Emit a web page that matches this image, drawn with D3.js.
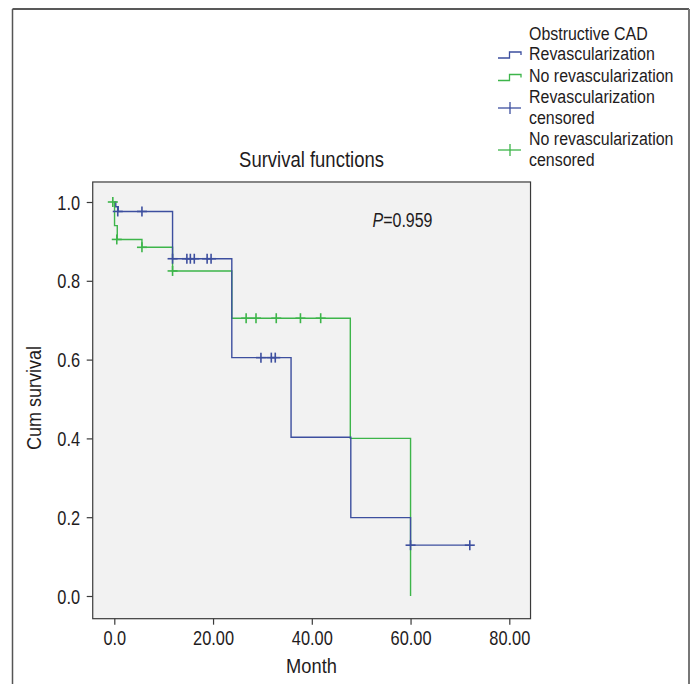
<!DOCTYPE html>
<html lang="en">
<head>
<meta charset="UTF-8">
<title>Survival functions</title>
<style>
  body { margin: 0; background: #fff; }
  svg { display: block; }
  text { font-family: "Liberation Sans", Arial, sans-serif; fill: #1f1c1d; }
</style>
</head>
<body>
<div id="chart"></div>
<script src="https://d3js.org/d3.v7.min.js"></script>
<script>
// Revascularization group: step points (month, cumulative survival)
const revascTime = [0, 0.3, 0.8, 11.8, 23.8, 35.8, 47.9, 60, 72];
const revascSurv = [1.0, 0.988, 0.976, 0.856, 0.605, 0.403, 0.199, 0.129, 0.129];
const revascCensTime = [0.7, 5.6, 11.8, 14.7, 15.4, 16.2, 18.8, 19.6, 29.7, 31.8, 32.6, 60, 72];
const revascCensSurv = [0.976, 0.976, 0.856, 0.856, 0.856, 0.856, 0.856, 0.856, 0.605, 0.605, 0.605, 0.129, 0.129];

// No revascularization group
const noRevascTime = [0, 0.05, 0.6, 5.6, 11.8, 23.8, 47.8, 60];
const noRevascSurv = [1.0, 0.94, 0.905, 0.885, 0.825, 0.705, 0.40, 0.0];
const noRevascCensTime = [-0.3, 0.5, 5.6, 11.8, 26.7, 28.7, 32.8, 37.7, 41.8];
const noRevascCensSurv = [1.0, 0.905, 0.885, 0.825, 0.705, 0.705, 0.705, 0.705, 0.705];

const xTicks = [0, 20, 40, 60, 80];
const xTickLabels = ["0.0", "20.00", "40.00", "60.00", "80.00"];
const yTicks = [0, 0.2, 0.4, 0.6, 0.8, 1.0];
const yTickLabels = ["0.0", "0.2", "0.4", "0.6", "0.8", "1.0"];

const blue = "#3d4f9f";
const green = "#3db54a";

const width = 691, height = 684;
const svg = d3.select("#chart").append("svg")
    .attr("width", width).attr("height", height);

// condensed looking text: regular font squeezed horizontally
function label(parent, x, y, str, size, sx, anchor) {
    return parent.append("text")
        .attr("transform", `translate(${x},${y}) scale(${sx},1)`)
        .attr("font-size", size)
        .attr("text-anchor", anchor || "start")
        .text(str);
}

// outer frame
const frame = svg.append("g").attr("fill", "none");
frame.append("line").attr("x1", 12.5).attr("y1", 9).attr("x2", 689).attr("y2", 9).attr("stroke", "#222").attr("stroke-width", 1.5);
frame.append("line").attr("x1", 12.5).attr("y1", 9).attr("x2", 12.5).attr("y2", height).attr("stroke", "#555").attr("stroke-width", 1.5);
frame.append("line").attr("x1", 689).attr("y1", 9).attr("x2", 689).attr("y2", height).attr("stroke", "#777").attr("stroke-width", 2);

const x = d3.scaleLinear().domain([0, 80]).range([114.3, 509.3]);
const y = d3.scaleLinear().domain([0, 1]).range([596, 202]);

const boxL = x(-4.37), boxR = x(84.3), boxT = y(1.0508), boxB = y(-0.0576);

svg.append("rect")
    .attr("x", boxL).attr("y", boxT)
    .attr("width", boxR - boxL).attr("height", boxB - boxT)
    .attr("fill", "#f2f2f2").attr("stroke", "#3a3a3a").attr("stroke-width", 1.2);

// axes
const xAxis = svg.append("g")
    .attr("transform", `translate(0,${boxB})`)
    .call(d3.axisBottom(x).tickValues(xTicks).tickFormat((d, i) => xTickLabels[i]).tickSize(6).tickPadding(6));
const yAxis = svg.append("g")
    .attr("transform", `translate(${boxL},0)`)
    .call(d3.axisLeft(y).tickValues(yTicks).tickFormat((d, i) => yTickLabels[i]).tickSize(6).tickPadding(6));
[xAxis, yAxis].forEach(a => {
    a.select(".domain").remove();
    a.selectAll(".tick line").attr("stroke", "#3a3a3a").attr("stroke-width", 1.2);
    a.selectAll(".tick text").attr("font-size", 19.5).attr("fill", "#1f1c1d")
        .attr("transform", "scale(0.84,1)")
        .style("font-family", '"Liberation Sans", Arial, sans-serif');
});
xAxis.selectAll(".tick text").attr("y", 12.5);
yAxis.selectAll(".tick text").attr("dy", "0.36em").attr("x", -15);

// survival curves
const line = d3.line().x(d => x(d[0])).y(d => y(d[1])).curve(d3.curveStepAfter);
const revasc = revascTime.map((t, i) => [t, revascSurv[i]]);
const noRevasc = noRevascTime.map((t, i) => [t, noRevascSurv[i]]);

svg.append("path").datum(noRevasc).attr("d", line)
    .attr("fill", "none").attr("stroke", green).attr("stroke-width", 1.4);
svg.append("path").datum(revasc).attr("d", line)
    .attr("fill", "none").attr("stroke", blue).attr("stroke-width", 1.4);

function censorMarks(times, surv, color) {
    const g = svg.append("g").attr("stroke", color).attr("stroke-width", 1.6);
    times.forEach((t, i) => {
        const cx = x(t), cy = y(surv[i]);
        g.append("line").attr("x1", cx - 5).attr("x2", cx + 5).attr("y1", cy).attr("y2", cy);
        g.append("line").attr("x1", cx).attr("x2", cx).attr("y1", cy - 5).attr("y2", cy + 5);
    });
}
censorMarks(noRevascCensTime, noRevascCensSurv, green);
censorMarks(revascCensTime, revascCensSurv, blue);

// titles
label(svg, 311.5, 167, "Survival functions", 21.5, 0.86, "middle");
label(svg, 311.5, 673, "Month", 21, 0.87, "middle");
svg.append("text").attr("transform", `translate(41,398) rotate(-90) scale(0.88,1)`)
    .attr("text-anchor", "middle").attr("font-size", 20.5).text("Cum survival");
const p = label(svg, 372.5, 226.5, "", 20.5, 0.78, "start");
p.append("tspan").attr("font-style", "italic").text("P");
p.append("tspan").text("=0.959");

// legend
const lg = svg.append("g");
const lx = 529;
const legendSize = 19, legendScale = 0.84;
label(lg, lx, 40, "Obstructive CAD", legendSize, legendScale);
const rows = [
    { lines: ["Revascularization"], base: 59.5, color: blue, type: "step" },
    { lines: ["No revascularization"], base: 82, color: green, type: "step" },
    { lines: ["Revascularization", "censored"], base: 103, color: blue, type: "cens" },
    { lines: ["No revascularization", "censored"], base: 145, color: green, type: "cens" }
];
rows.forEach(r => {
    r.lines.forEach((s, i) => label(lg, lx, r.base + i * 21, s, legendSize, legendScale));
    if (r.type === "step") {
        const yb = r.base - 1.5;
        lg.append("path")
            .attr("d", `M498,${yb} H509.5 V${yb - 6} H521 V${yb - 3}`)
            .attr("fill", "none").attr("stroke", r.color).attr("stroke-width", 1.3);
    } else {
        const cy = r.base + 5;
        lg.append("line").attr("x1", 498).attr("x2", 521).attr("y1", cy).attr("y2", cy)
            .attr("stroke", r.color).attr("stroke-width", 1.3);
        lg.append("line").attr("x1", 510).attr("x2", 510).attr("y1", cy - 6).attr("y2", cy + 6)
            .attr("stroke", r.color).attr("stroke-width", 1.3);
    }
});
</script>
</body>
</html>
